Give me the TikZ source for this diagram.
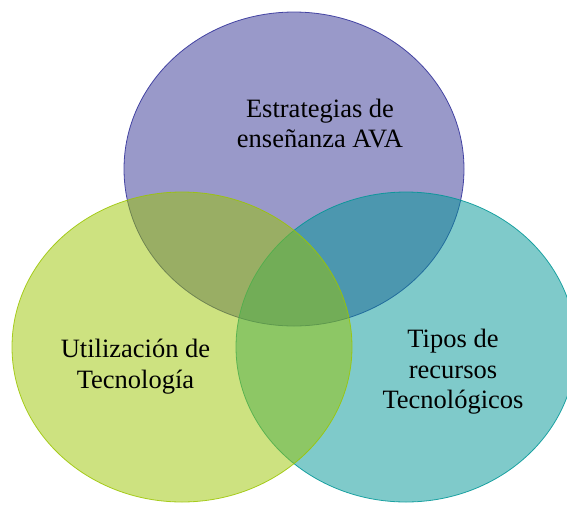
\documentclass[tikz,border=0pt]{standalone}
\usepackage{fontspec}
\setmainfont{Liberation Serif}
\definecolor{cPurple}{HTML}{333393}
\definecolor{cPurpleLine}{HTML}{2E2E99}
\definecolor{cTeal}{HTML}{009696}
\definecolor{cLime}{HTML}{9BC501}
\tikzset{
  venn/.style={fill opacity=0.5, draw opacity=0.85, line width=0.8pt},
  lbl/.style={align=center, inner sep=0pt, font=\fontsize{26.5pt}{30.5pt}\selectfont, text=black}
}
\begin{document}
\begin{tikzpicture}[x=1pt,y=-1pt]
\useasboundingbox (0,0) rectangle (567,504);
\begin{scope}
\clip (0,0) rectangle (567,504);
\path[venn, fill=cPurple, draw=cPurpleLine] (294,169) ellipse [x radius=170, y radius=157];
\path[venn, fill=cTeal, draw=cTeal] (406,347) ellipse [x radius=170, y radius=155];
\path[venn, fill=cLime, draw=cLime] (182,347) ellipse [x radius=170, y radius=155];
\end{scope}
\node[lbl] (top) at (320,123.5) {Estrategias de\\enseñanza AVA};
\node[lbl] (left) at (135.5,366.7) {Utilización de\\Tecnología};
\node[lbl] (right) at (453,371.9) {Tipos de\\recursos\\Tecnológicos};
\end{tikzpicture}
\end{document}
